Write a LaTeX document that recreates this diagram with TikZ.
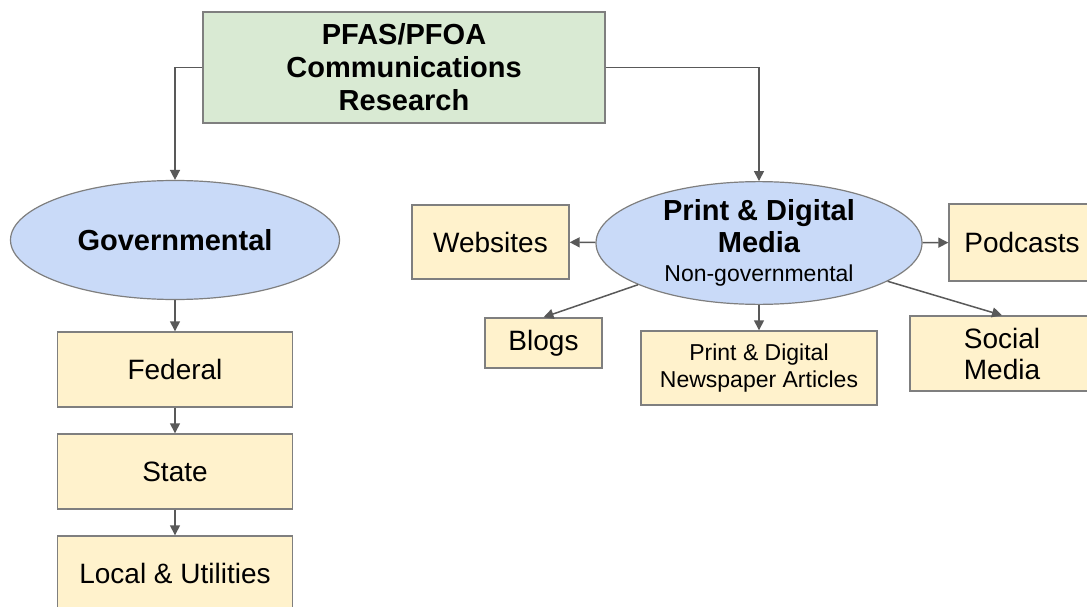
\documentclass[tikz,border=0pt]{standalone}
\usepackage{fontspec}
\setmainfont{Liberation Sans}
\usetikzlibrary{shapes.geometric,arrows.meta}
\definecolor{greenfill}{HTML}{D9EAD3}
\definecolor{bluefill}{HTML}{C9DAF8}
\definecolor{yellowfill}{HTML}{FFF2CC}
\definecolor{edgegray}{HTML}{7F7F7F}
\definecolor{arrowgray}{HTML}{595959}
\tikzset{
  box/.style={draw=edgegray, line width=1.4pt, fill=yellowfill, rectangle,
    inner sep=0pt, align=center, font=\fontsize{28}{31}\selectfont},
  oval/.style={draw=edgegray, line width=1.2pt, fill=bluefill, ellipse,
    inner sep=0pt, align=center},
  titlebox/.style={draw=edgegray, line width=1.4pt, fill=greenfill, rectangle,
    inner sep=0pt, align=center, font=\bfseries\fontsize{29}{33}\selectfont},
  link/.style={draw=arrowgray, line width=1.5pt,
    -{Triangle[length=10pt,width=10pt]}},
}
\begin{document}
\begin{tikzpicture}[x=1pt,y=-1pt]
  \fill[white] (0,0) rectangle (1087,607);
  \useasboundingbox (0,0) rectangle (1087,607);

  % top box
  \node[titlebox, minimum width=402pt, minimum height=111pt] (title) at (404,67.5)
    {PFAS/PFOA\\Communications\\Research};

  % governmental branch
  \node[oval, minimum width=329pt, minimum height=119pt,
        font=\bfseries\fontsize{29}{33}\selectfont] (gov) at (175,240) {Governmental};
  \node[box, minimum width=235pt, minimum height=75pt] (federal) at (175,369.5) {Federal};
  \node[box, minimum width=235pt, minimum height=75pt] (state) at (175,471.5) {State};
  \node[box, minimum width=235pt, minimum height=75pt] (local) at (175,573.5) {Local \& Utilities};

  % media branch
  \node[oval, minimum width=326pt, minimum height=121pt,
        font=\bfseries\fontsize{29}{32}\selectfont] (media) at (759,243)
    {Print \& Digital\\Media\\[-3pt]{\normalfont\fontsize{23}{31}\selectfont Non-governmental}};
  \node[box, minimum width=157pt, minimum height=74pt] (websites) at (490.5,242) {Websites};
  \node[box, minimum width=146pt, minimum height=77pt] (podcasts) at (1022,242.5) {Podcasts};
  \node[box, minimum width=117pt, minimum height=50pt] (blogs) at (543.5,343) {Blogs};
  \node[box, minimum width=236pt, minimum height=74pt,
        font=\fontsize{23}{27}\selectfont] (news) at (759,368)
    {Print \& Digital\\Newspaper Articles};
  \node[box, minimum width=184pt, minimum height=75pt] (social) at (1002,353.5)
    {Social\\Media};

  % connectors
  \draw[link] (title.west) -| (gov.north);
  \draw[link] (title.east) -| (media.north);
  \draw[link] (gov) -- (federal);
  \draw[link] (federal) -- (state);
  \draw[link] (state) -- (local);
  \draw[link] (media) -- (websites);
  \draw[link] (media) -- (podcasts);
  \draw[link] (media) -- (blogs.north);
  \draw[link] (media) -- (news);
  \draw[link] (media) -- (social.north);
\end{tikzpicture}
\end{document}
